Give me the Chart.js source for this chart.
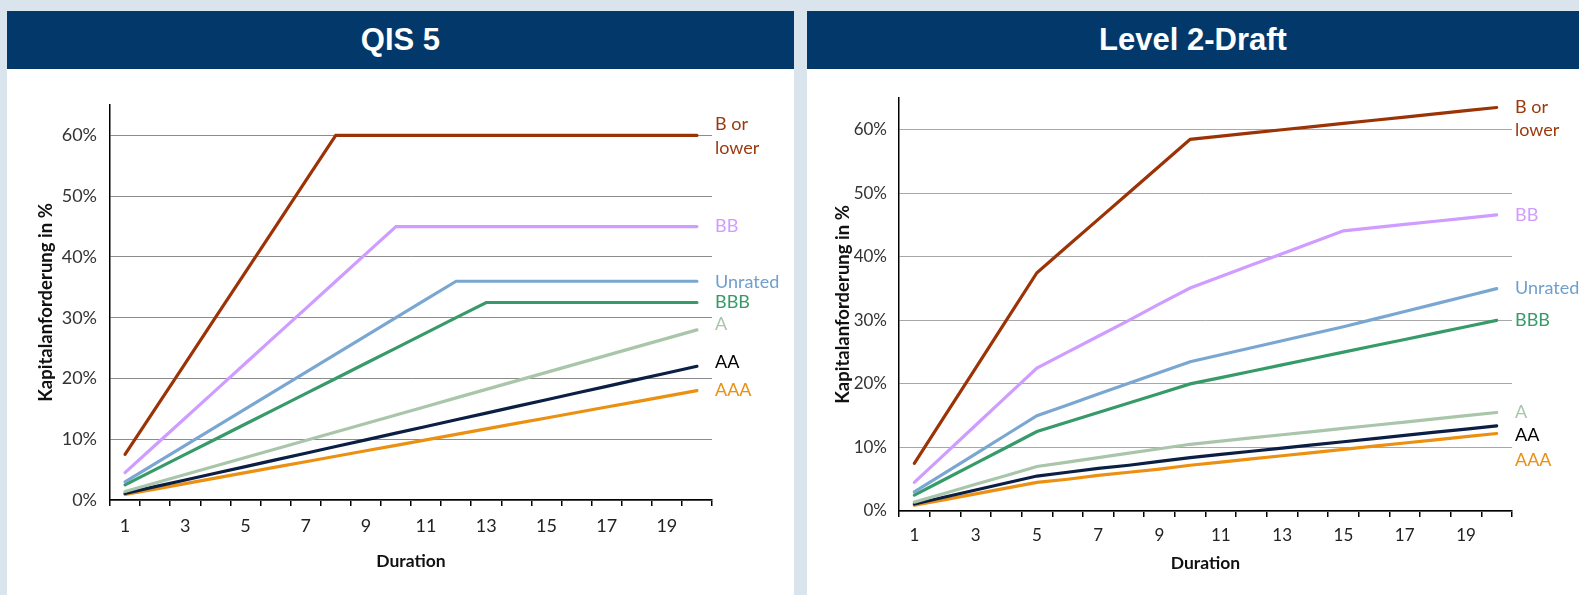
<!DOCTYPE html>
<html>
<head>
<meta charset="utf-8">
<script src="https://cdn.jsdelivr.net/npm/chart.js@4.4.1/dist/chart.umd.min.js"></script>
<style>
    body { margin: 0; width: 1579px; height: 595px; overflow: hidden; position: relative; background: #d9e4ec; }
    .panel { position: absolute; top: 11px; bottom: 0; background: #fff; }
    .head { height: 58px; background: #03386b; color: #fff; font: bold 31px "Liberation Sans", Arial, sans-serif;
            display: flex; align-items: center; justify-content: center; }
    canvas { display: block; }
</style>
</head>
<body>
<div class="panel" style="left:7px;width:787px">
    <div class="head">QIS 5</div>
    <canvas id="qisChart" width="787" height="526"></canvas>
</div>
<div class="panel" style="left:807px;width:772px">
    <div class="head">Level 2-Draft</div>
    <canvas id="draftChart" width="772" height="526"></canvas>
</div>
<script>
const durations = [1, 2, 3, 4, 5, 6, 7, 8, 9, 10, 11, 12, 13, 14, 15, 16, 17, 18, 19, 20];
const yTickValues = [0, 10, 20, 30, 40, 50, 60];
const seriesNames = ['B or lower', 'BB', 'Unrated', 'BBB', 'A', 'AA', 'AAA'];
const lineColors = ['#9c3306', '#cf9cff', '#7aa7d2', '#379a69', '#a9c5aa', '#0b1f45', '#ec9012'];
const labelColors = ['#9b3a0e', '#cf9cff', '#6f9fcc', '#379a69', '#a9c5aa', '#000000', '#ec9012'];

// QIS 5 (values in %)
const qisBOrLower = [7.5, 15, 22.5, 30, 37.5, 45, 52.5, 60, 60, 60, 60, 60, 60, 60, 60, 60, 60, 60, 60, 60];
const qisBB       = [4.5, 9, 13.5, 18, 22.5, 27, 31.5, 36, 40.5, 45, 45, 45, 45, 45, 45, 45, 45, 45, 45, 45];
const qisUnrated  = [3, 6, 9, 12, 15, 18, 21, 24, 27, 30, 33, 36, 36, 36, 36, 36, 36, 36, 36, 36];
const qisBBB      = [2.5, 5, 7.5, 10, 12.5, 15, 17.5, 20, 22.5, 25, 27.5, 30, 32.5, 32.5, 32.5, 32.5, 32.5, 32.5, 32.5, 32.5];
const qisA        = [1.4, 2.8, 4.2, 5.6, 7, 8.4, 9.8, 11.2, 12.6, 14, 15.4, 16.8, 18.2, 19.6, 21, 22.4, 23.8, 25.2, 26.6, 28];
const qisAA       = [1.1, 2.2, 3.3, 4.4, 5.5, 6.6, 7.7, 8.8, 9.9, 11, 12.1, 13.2, 14.3, 15.4, 16.5, 17.6, 18.7, 19.8, 20.9, 22];
const qisAAA      = [0.9, 1.8, 2.7, 3.6, 4.5, 5.4, 6.3, 7.2, 8.1, 9, 9.9, 10.8, 11.7, 12.6, 13.5, 14.4, 15.3, 16.2, 17.1, 18];
const qisLabelAt  = [59.8, 45.1, 35.8, 32.5, 28.9, 22.7, 18.1];

// Level 2 draft (values in %)
const draftBOrLower = [7.5, 15, 22.5, 30, 37.5, 41.7, 45.9, 50.1, 54.3, 58.5, 59, 59.5, 60, 60.5, 61, 61.5, 62, 62.5, 63, 63.5];
const draftBB       = [4.5, 9, 13.5, 18, 22.5, 25, 27.5, 30, 32.6, 35.1, 36.9, 38.7, 40.5, 42.3, 44.1, 44.6, 45.1, 45.6, 46.1, 46.6];
const draftUnrated  = [3, 6, 9, 12, 15, 16.7, 18.4, 20.1, 21.8, 23.5, 24.6, 25.7, 26.8, 27.9, 29, 30.2, 31.4, 32.6, 33.8, 35];
const draftBBB      = [2.5, 5, 7.5, 10, 12.5, 14, 15.5, 17, 18.5, 20, 21, 22, 23, 24, 25, 26, 27, 28, 29, 30];
const draftA        = [1.4, 2.8, 4.2, 5.6, 7, 7.7, 8.4, 9.1, 9.8, 10.5, 11, 11.5, 12, 12.5, 13, 13.5, 14, 14.5, 15, 15.5];
const draftAA       = [1.1, 2.2, 3.3, 4.4, 5.5, 6.1, 6.7, 7.2, 7.8, 8.4, 8.9, 9.4, 9.9, 10.4, 10.9, 11.4, 11.9, 12.4, 12.9, 13.4];
const draftAAA      = [0.9, 1.8, 2.7, 3.6, 4.5, 5, 5.6, 6.1, 6.6, 7.2, 7.7, 8.2, 8.7, 9.2, 9.7, 10.2, 10.7, 11.2, 11.7, 12.2];
const draftLabelAt  = [61.8, 46.5, 35.0, 30.1, 15.6, 12.0, 8.05];

const endLabels = {
    id: 'endLabels',
    afterDatasetsDraw(chart, args, opts) {
        const { ctx, scales: { x, y } } = chart;
        ctx.save();
        ctx.font = '18px Lato';
        ctx.textAlign = 'left';
        ctx.textBaseline = 'middle';
        chart.data.datasets.forEach((ds, i) => {
            const lines = ds.label === 'B or lower' ? ['B or', 'lower'] : [ds.label];
            const cy = y.getPixelForValue(opts.at[i]);
            ctx.fillStyle = labelColors[i];
            lines.forEach((t, k) => ctx.fillText(t, x.right + 3, cy + (k - (lines.length - 1) / 2) * opts.lineGap));
        });
        ctx.restore();
    }
};

function buildChart(id, series, labelAt, g) {
    const ctx = document.getElementById(id).getContext('2d');
    return new Chart(ctx, {
        type: 'line',
        data: {
            labels: durations,
            datasets: series.map((vals, i) => ({
                label: seriesNames[i],
                data: vals,
                borderColor: lineColors[i],
                backgroundColor: lineColors[i],
                borderWidth: 3.2,
                borderCapStyle: 'round',
                pointRadius: 0,
                tension: 0,
                fill: false
            }))
        },
        options: {
            responsive: false,
            animation: false,
            layout: { padding: { top: g.top, right: g.right, left: 0, bottom: 0 } },
            plugins: {
                legend: { display: false },
                tooltip: { enabled: false },
                endLabels: { at: labelAt, lineGap: g.gap }
            },
            scales: {
                x: {
                    offset: true,
                    grid: { offset: true, drawOnChartArea: false, drawTicks: true, tickLength: 6, color: '#000', lineWidth: 1.5 },
                    border: { color: '#000', width: 1.5 },
                    ticks: {
                        autoSkip: false, maxRotation: 0, padding: g.xPad, color: '#222',
                        font: { family: 'Lato', size: g.tickSize },
                        callback: (v, i) => (durations[i] % 2 ? durations[i] : '')
                    },
                    title: {
                        display: true, text: 'Duration', color: '#111',
                        font: { family: 'Lato', size: 17.5, weight: 'bold' },
                        padding: { top: 0, bottom: g.xTitle }
                    },
                    afterFit: s => { s.height = g.xHeight; }
                },
                y: {
                    min: 0,
                    max: 65,
                    afterBuildTicks: s => { s.ticks = yTickValues.map(v => ({ value: v })); },
                    grid: { color: g.gridColor, drawTicks: false, lineWidth: 1 },
                    border: { color: '#000', width: 1.5 },
                    ticks: {
                        padding: g.yPad, color: '#333',
                        font: { family: 'Lato', size: g.tickSize },
                        callback: v => v + '%'
                    },
                    title: {
                        display: true, text: 'Kapitalanforderung in %', color: '#111',
                        font: { family: 'Lato', size: 18.5, weight: 'bold' },
                        padding: { top: g.yTitle, bottom: 0 }
                    },
                    afterFit: s => { s.width = g.yWidth; }
                }
            }
        },
        plugins: [endLabels]
    });
}

buildChart('qisChart',
    [qisBOrLower, qisBB, qisUnrated, qisBBB, qisA, qisAA, qisAAA], qisLabelAt,
    { top: 36, right: 82, yWidth: 103, xHeight: 95, xPad: 9, xTitle: 23, yTitle: 28, yPad: 13,
      tickSize: 18, gap: 24, gridColor: '#8c8c8c' });

buildChart('draftChart',
    [draftBOrLower, draftBB, draftUnrated, draftBBB, draftA, draftAA, draftAAA], draftLabelAt,
    { top: 29, right: 67, yWidth: 92, xHeight: 84, xPad: 8, xTitle: 21, yTitle: 25, yPad: 12,
      tickSize: 17, gap: 23, gridColor: '#a8a8a8' });
</script>
</body>
</html>
